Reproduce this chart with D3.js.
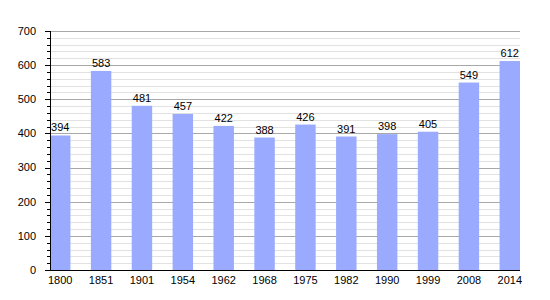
<!DOCTYPE html>
<html>
<head>
<meta charset="utf-8">
<script src="https://cdn.jsdelivr.net/npm/d3@7"></script>
<style>
  body { margin: 0; background: #fff; }
  text { font-family: "Liberation Sans", Arial, sans-serif; }
</style>
</head>
<body>
<svg id="chart"></svg>
<script>
const years = ['1800', '1851', '1901', '1954', '1962', '1968', '1975', '1982', '1990', '1999', '2008', '2014'];
const population = [394, 583, 481, 457, 422, 388, 426, 391, 398, 405, 549, 612];
const majorTicks = [0, 100, 200, 300, 400, 500, 600, 700];

const width = 550;
const height = 300;
const plotLeft = 50, plotRight = 520, plotTop = 31, plotBottom = 270;

const svg = d3.select('#chart')
  .attr('width', width)
  .attr('height', height);

const x = d3.scaleBand()
  .domain(years)
  .range([plotLeft, plotRight])
  .paddingInner(0.5)
  .paddingOuter(0);

const y = d3.scaleLinear()
  .domain([0, 700])
  .range([plotBottom, plotTop]);

const minorTicks = d3.range(0, 701, 20).filter(v => v % 100 !== 0);

// grille secondaire
svg.append('g')
  .selectAll('line')
  .data(minorTicks)
  .join('line')
  .attr('x1', plotLeft)
  .attr('x2', plotRight)
  .attr('y1', d => Math.round(y(d)) + 0.5)
  .attr('y2', d => Math.round(y(d)) + 0.5)
  .attr('stroke', '#e2e2e2')
  .attr('stroke-width', 1);

// grille principale
svg.append('g')
  .selectAll('line')
  .data(majorTicks.filter(d => d > 0))
  .join('line')
  .attr('x1', plotLeft)
  .attr('x2', plotRight)
  .attr('y1', d => Math.round(y(d)) + 0.5)
  .attr('y2', d => Math.round(y(d)) + 0.5)
  .attr('stroke', '#a8a8a8')
  .attr('stroke-width', 1);

// barres
svg.append('g')
  .selectAll('rect')
  .data(population)
  .join('rect')
  .attr('x', (d, i) => x(years[i]))
  .attr('y', d => y(d))
  .attr('width', x.bandwidth())
  .attr('height', d => y(0) - y(d))
  .attr('fill', '#99aaff');

// valeurs au-dessus des barres
svg.append('g')
  .selectAll('text')
  .data(population)
  .join('text')
  .attr('x', (d, i) => x(years[i]) + x.bandwidth() / 2)
  .attr('y', d => y(d) - 4)
  .attr('text-anchor', 'middle')
  .style('font-size', '11px')
  .style('fill', '#000')
  .text(d => d);

// axe vertical
const yAxis = svg.append('g');
yAxis.append('line')
  .attr('x1', plotLeft + 0.5).attr('x2', plotLeft + 0.5)
  .attr('y1', plotTop).attr('y2', plotBottom)
  .attr('stroke', '#000');
yAxis.selectAll('.minor')
  .data(minorTicks)
  .join('line')
  .attr('class', 'minor')
  .attr('x1', plotLeft - 3).attr('x2', plotLeft)
  .attr('y1', d => Math.round(y(d)) + 0.5)
  .attr('y2', d => Math.round(y(d)) + 0.5)
  .attr('stroke', '#000');
yAxis.selectAll('.major')
  .data(majorTicks)
  .join('line')
  .attr('class', 'major')
  .attr('x1', plotLeft - 5).attr('x2', plotLeft)
  .attr('y1', d => Math.round(y(d)) + 0.5)
  .attr('y2', d => Math.round(y(d)) + 0.5)
  .attr('stroke', '#000');
yAxis.selectAll('text')
  .data(majorTicks)
  .join('text')
  .attr('x', plotLeft - 14)
  .attr('y', d => y(d))
  .attr('dy', '0.35em')
  .attr('text-anchor', 'end')
  .style('font-size', '11px')
  .text(d => d);

// axe horizontal
const xAxis = svg.append('g');
xAxis.append('line')
  .attr('x1', plotLeft).attr('x2', plotRight)
  .attr('y1', plotBottom + 0.5).attr('y2', plotBottom + 0.5)
  .attr('stroke', '#000')
  .attr('stroke-width', 1.2);
xAxis.selectAll('text')
  .data(years)
  .join('text')
  .attr('x', d => x(d) + x.bandwidth() / 2)
  .attr('y', plotBottom + 14)
  .attr('text-anchor', 'middle')
  .style('font-size', '11px')
  .text(d => d);
</script>
</body>
</html>
